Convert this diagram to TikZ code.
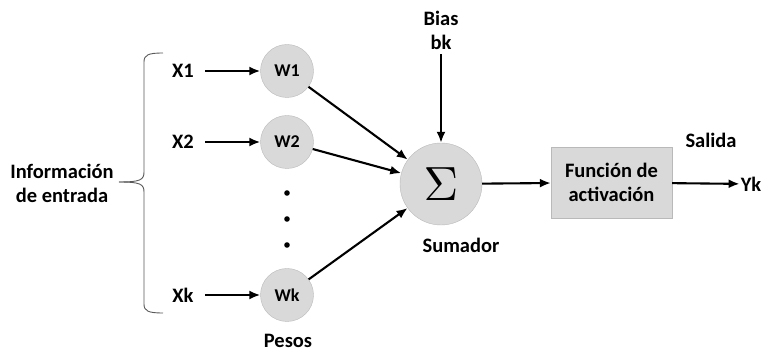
\documentclass[tikz,border=0pt]{standalone}
\usepackage{fontspec}
\usepackage{graphicx}
\setmainfont{Carlito}
\usetikzlibrary{shapes.geometric, arrows.meta}

\begin{document}
\begin{tikzpicture}[x=1pt,y=-1pt,
    peso/.style={circle,draw=gray!55,fill=gray!30,minimum size=53pt,inner sep=0pt,
        font=\bfseries\fontsize{18}{22}\selectfont},
    etiq/.style={font=\bfseries\fontsize{20.5}{24}\selectfont,align=center,inner sep=1pt},
    flecha/.style={-{Latex[length=11pt,width=9pt]},line width=2.1pt}]
        \useasboundingbox (0,0) rectangle (764,352);
        % Inputs and weights
        \foreach \n/\y/\t in {1/71/X1, 2/142/X2, k/295/Xk}{
            \node[etiq] (x\n) at (183,\y) {\t};
            \node[peso] (w\n) at (287,\y) {W\n};
            \draw[flecha,shorten <=10pt] (x\n) -- (w\n);
        }
        \node[etiq] (pesos) at (288,341) {Pesos};
        % Dots
        \foreach \y in {193,219,245}
            \fill (287,\y) circle (2.8pt);
        % Brace
        \draw[gray!70!black,line width=0.9pt] (163,53) .. controls (148,53) and (144,55) .. (144,62)
            -- (144,172) .. controls (144,180) and (140,182) .. (119,182);
        \draw[gray!70!black,line width=0.9pt] (163,313) .. controls (148,313) and (144,311) .. (144,304)
            -- (144,192) .. controls (144,184) and (140,182) .. (119,182);
        \node[etiq] (entrada) at (62,183) {Información\\de entrada};
        % Summing node
        \node[circle,draw=gray!55,fill=gray!30,minimum size=82pt,inner sep=0pt]
            (suma) at (441,184) {\scalebox{4.8}{$\Sigma$}};
        \node[etiq] (sumador) at (461,245) {Sumador};
        \foreach \n in {1,2,k}
            \draw[flecha] (w\n) -- (suma);
        % Bias
        \node[etiq] (bias) at (441,30) {Bias\\bk};
        \draw[flecha,shorten <=4pt] (bias) -- (suma);
        % Activation
        \node[rectangle,draw=gray!55,fill=gray!30,minimum width=121pt,minimum height=71pt,
            etiq] (activ) at (611.5,182.5) {Función de\\activación};
        \draw[flecha] (suma) -- (activ);
        \node[etiq] (yk) at (751,184) {Yk};
        \node[etiq] (salida) at (711,140) {Salida};
        \draw[flecha] (activ) -- (yk);
\end{tikzpicture}
\end{document}
